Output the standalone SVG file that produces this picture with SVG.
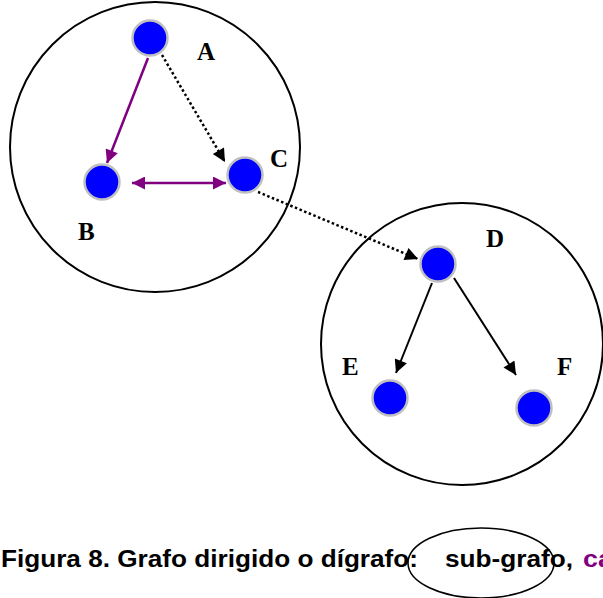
<svg xmlns="http://www.w3.org/2000/svg" width="603" height="598" viewBox="0 0 603 598">
<style>
.cl{fill:none;stroke:#000;stroke-width:2}
.nd{fill:#0000ff;stroke:#c0c0c0;stroke-width:2.5}
.lb{font-family:"Liberation Serif",serif;font-weight:bold;font-size:25px;fill:#000}
.cap{font-family:"Liberation Sans",Arial,sans-serif;font-weight:bold;font-size:23px;fill:#000}
.p{stroke:#800080;stroke-width:2.5;fill:none}
.k{stroke:#000;stroke-width:2;fill:none}
.d{stroke-width:2.5;stroke-dasharray:2.5 2.5}
</style>
<defs>
<marker id="mp" viewBox="0 0 10 10" refX="10" refY="5" markerWidth="14" markerHeight="13" markerUnits="userSpaceOnUse" orient="auto-start-reverse"><path d="M0,0L10,5L0,10z" fill="#800080"/></marker>
<marker id="mk" viewBox="0 0 10 10" refX="10" refY="5" markerWidth="15" markerHeight="13" markerUnits="userSpaceOnUse" orient="auto"><path d="M0,0L10,5L0,10z" fill="#000"/></marker>
</defs>
<g id="subgraph1"><circle class="cl" cx="155" cy="147" r="145"/></g>
<g id="subgraph2"><circle class="cl" cx="462" cy="344" r="141"/></g>
<g id="connectors">
<line class="p" x1="148" y1="58" x2="107" y2="163" marker-end="url(#mp)"/>
<line class="p" x1="132" y1="183" x2="226" y2="183" marker-start="url(#mp)" marker-end="url(#mp)"/>
<line class="k d" x1="162" y1="55" x2="225" y2="162" marker-end="url(#mk)"/>
<line class="k d" x1="258" y1="192" x2="418" y2="259" marker-end="url(#mk)"/>
<line class="k" x1="432" y1="283" x2="396" y2="373" marker-end="url(#mk)"/>
<line class="k" x1="454" y1="278" x2="516" y2="375" marker-end="url(#mk)"/>
</g>
<g id="A"><circle class="nd" cx="150" cy="38" r="17.5"/><text class="lb" x="197" y="60">A</text></g>
<g id="B"><circle class="nd" cx="102" cy="182" r="17.5"/><text class="lb" x="78" y="240">B</text></g>
<g id="C"><circle class="nd" cx="245" cy="175" r="17.5"/><text class="lb" x="270" y="167">C</text></g>
<g id="D"><circle class="nd" cx="438" cy="264" r="17.5"/><text class="lb" x="486" y="247">D</text></g>
<g id="E"><circle class="nd" cx="390" cy="398" r="17.5"/><text class="lb" x="342" y="375">E</text></g>
<g id="F"><circle class="nd" cx="534" cy="408" r="17.5"/><text class="lb" x="557" y="375">F</text></g>
<g id="caption">
<text class="cap" x="1" y="567" textLength="417" lengthAdjust="spacingAndGlyphs">Figura 8. Grafo dirigido o dígrafo:</text>
<text class="cap" x="445" y="567" textLength="128" lengthAdjust="spacingAndGlyphs">sub-grafo,</text>
<text class="cap" x="583" y="567" fill="#800080" style="fill:#800080" textLength="30" lengthAdjust="spacingAndGlyphs">ca</text>
<ellipse cx="481" cy="563" rx="73" ry="35" fill="none" stroke="#000" stroke-width="1.5"/>
</g>
</svg>
